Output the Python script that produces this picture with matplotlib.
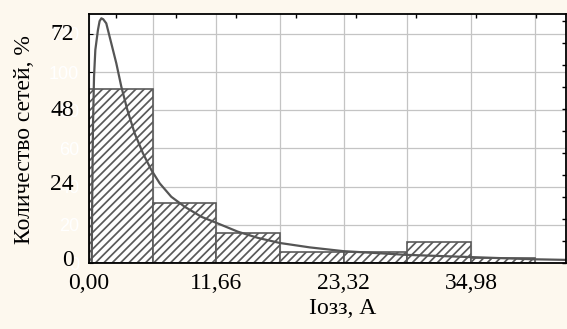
import numpy as np
import matplotlib
matplotlib.use("Agg")
import matplotlib.pyplot as plt
from matplotlib.transforms import ScaledTranslation

# histogram of earth-fault current, share of networks in %
bin_edges = [0.00, 5.83, 11.66, 17.49, 23.32, 29.15, 34.98, 40.81]
share_pct = [55.7, 19.3, 9.7, 3.5, 3.5, 6.7, 1.7]

# fitted density curve (x in A, y in %)
curve_x = [0.25, 0.28, 0.32, 0.37, 0.46, 0.58, 0.82, 0.97, 1.13, 1.30, 1.58, 2.04,
           2.50, 2.96, 3.51, 4.18, 4.94, 5.70, 6.47, 7.53, 8.76, 10.28, 12.11,
           13.64, 15.50, 17.48, 20.20, 23.25, 29.10, 34.90, 40.60, 43.60]
curve_y = [0.0, 15.0, 30.0, 45.0, 59.6, 68.2, 74.6, 77.4, 78.3, 78.0, 76.7, 70.3,
           63.9, 56.4, 49.0, 41.5, 35.1, 29.8, 25.5, 21.2, 18.0, 14.8, 12.2,
           10.0, 8.0, 6.4, 5.0, 3.8, 2.6, 1.9, 1.2, 1.0]

pct_ticks = [0, 24, 48, 72]
x_labels = ["0,00", "", "11,66", "", "23,32", "", "34,98", ""]
count_ticks = [0, 20, 40, 60, 80, 100, 120]

bg = "#fdf8ee"
plt.rcParams["hatch.linewidth"] = 1.25
plt.rcParams["hatch.color"] = "#505050"
fig = plt.figure(figsize=(5.67, 3.29), dpi=100, facecolor=bg)
pos = [89 / 567, 66 / 329, 477 / 567, 249 / 329]

# back axes: counts scale, grid and hidden (white) count labels
axc = fig.add_axes(pos, zorder=0)
axc.set_facecolor("white")
axc.set_xlim(0, 43.66)
axc.set_ylim(0, 130.4)
axc.set_xticks(bin_edges)
axc.set_xticklabels([])
axc.set_yticks(count_ticks)
axc.set_yticklabels([str(t) for t in count_ticks], color="white",
                    fontsize=13, family="Liberation Sans")
axc.tick_params(axis="x", length=0)
axc.tick_params(axis="y", direction="in", length=3, pad=7)
axc.grid(True, color="#c4c4c4", lw=0.9)
for s in axc.spines.values():
    s.set_visible(False)

# front axes: percent scale
ax = fig.add_axes(pos, zorder=1)
ax.patch.set_alpha(0)
widths = np.diff(bin_edges)
ax.bar(bin_edges[:-1], share_pct, width=widths, align="edge", facecolor="white",
       edgecolor="#5a5a5a", linewidth=1.2, hatch="////")
ax.plot(curve_x, curve_y, color="#555555", lw=1.6, solid_joinstyle="round")
ax.set_xlim(0, 43.66)
ax.set_ylim(0, 79.68)

ax.set_xticks(bin_edges)
ax.set_xticklabels(x_labels, fontsize=17, family="Liberation Serif")
ax.tick_params(axis="x", length=0, pad=7)
ax.set_yticks(pct_ticks)
ax.set_yticklabels([str(t) for t in pct_ticks], fontsize=17, family="Liberation Serif")
ax.tick_params(axis="y", length=0, pad=11)
for lab in ax.get_yticklabels():
    lab.set_transform(lab.get_transform() + ScaledTranslation(0, 5.5 / 100, fig.dpi_scale_trans))

for s in ax.spines.values():
    s.set_color("black")
    s.set_linewidth(1.3)

top = ax.secondary_xaxis("top")
top.set_xticks(np.arange(2.47, 43.6, 5.49))
top.set_xticklabels([])
top.tick_params(direction="in", length=3, width=1)
top.spines["top"].set_visible(False)

right = ax.secondary_yaxis("right")
right.set_yticks(np.arange(0, 79.6, 7.04))
right.set_yticklabels([])
right.tick_params(direction="in", length=3, width=1)
right.spines["right"].set_visible(False)

fig.text(25 / 567, 1 - 140 / 329, "Количество сетей, %", rotation=90,
         ha="center", va="center", fontsize=17, family="Liberation Serif")
fig.text(343 / 567, 1 - 309 / 329, "Iозз, А", ha="center", va="center",
         fontsize=17, family="Liberation Serif")

fig.savefig("out.png", dpi=100, facecolor=bg)
